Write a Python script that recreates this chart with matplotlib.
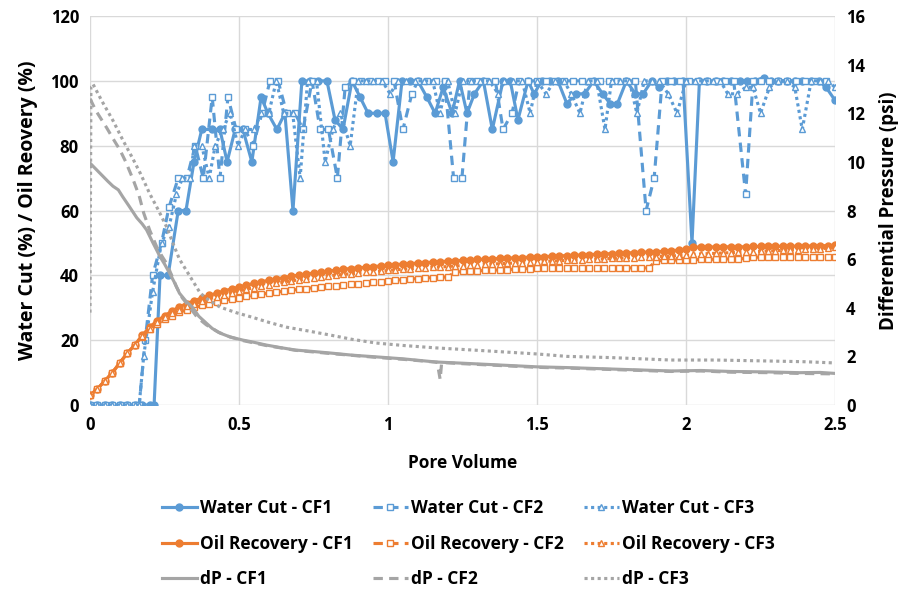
import matplotlib
matplotlib.use("Agg")
import matplotlib.pyplot as plt

plt.rcParams['font.family'] = ['Open Sans', 'DejaVu Sans']
plt.rcParams['font.weight'] = 'bold'

BLUE = '#5B9BD5'
ORANGE = '#ED7D31'
GRAY = '#A5A5A5'

# ---- water cut (%) ----
wc1_pv = [0, 0.025, 0.05, 0.075, 0.1, 0.125, 0.15, 0.175, 0.2, 0.215, 0.235, 0.262, 0.296, 0.322,
          0.349, 0.375, 0.409, 0.436, 0.46, 0.487, 0.513, 0.543, 0.574, 0.597, 0.627, 0.654, 0.681,
          0.711, 0.738, 0.765, 0.795, 0.822, 0.849, 0.879, 0.906, 0.933, 0.963, 0.99, 1.017, 1.047,
          1.074, 1.1, 1.13, 1.158, 1.185, 1.215, 1.24, 1.265, 1.29, 1.32, 1.35, 1.386, 1.41, 1.436,
          1.47, 1.49, 1.516, 1.543, 1.57, 1.6, 1.63, 1.66, 1.69, 1.72, 1.745, 1.77, 1.8, 1.83, 1.856,
          1.885, 1.91, 1.935, 1.96, 1.99, 2.02, 2.045, 2.07, 2.1, 2.125, 2.15, 2.18, 2.205, 2.23,
          2.26, 2.285, 2.31, 2.34, 2.365, 2.39, 2.42, 2.445, 2.47, 2.5]
wc1 = [0, 0, 0, 0, 0, 0, 0, 0, 0, 0, 40, 40, 60, 60,
       75, 85, 85, 85, 75, 85, 85, 75, 95, 90, 85, 90, 60,
       100, 100, 100, 100, 88, 85, 100, 95, 90, 90, 90, 75, 100,
       100, 100, 95, 90, 98, 90, 100, 90, 96, 100, 85, 100, 100, 88,
       100, 96, 100, 100, 100, 93, 96, 96, 100, 96, 93, 93, 100, 96, 96,
       100, 98, 100, 100, 100, 50, 100, 100, 100, 100, 100, 100, 100, 100,
       101, 100, 100, 100, 100, 100, 100, 100, 98, 94]

wc2_pv = [0, 0.025, 0.05, 0.075, 0.1, 0.125, 0.15, 0.165, 0.185, 0.21, 0.24, 0.265, 0.296, 0.325,
          0.353, 0.38, 0.41, 0.436, 0.463, 0.49, 0.52, 0.547, 0.577, 0.604, 0.631, 0.66, 0.688,
          0.715, 0.745, 0.772, 0.8, 0.83, 0.856, 0.883, 0.91, 0.94, 0.965, 0.99, 1.02, 1.05, 1.08,
          1.1, 1.13, 1.16, 1.19, 1.22, 1.248, 1.275, 1.3, 1.33, 1.36, 1.386, 1.416, 1.44, 1.47,
          1.5, 1.53, 1.56, 1.59, 1.62, 1.65, 1.68, 1.71, 1.74, 1.77, 1.8, 1.83, 1.866, 1.893,
          1.92, 1.95, 1.98, 2.01, 2.04, 2.07, 2.1, 2.13, 2.16, 2.2, 2.225, 2.25, 2.28, 2.31, 2.34,
          2.37, 2.4, 2.43, 2.47]
wc2 = [0, 0, 0, 0, 0, 0, 0, 0, 20, 40, 50, 61, 70, 70,
       80, 70, 95, 70, 95, 85, 85, 80, 90, 100, 100, 90, 90,
       85, 100, 85, 85, 70, 98, 100, 100, 100, 100, 100, 100, 85, 96,
       100, 100, 100, 100, 70, 70, 100, 100, 100, 100, 85, 90, 100, 100,
       100, 100, 100, 100, 100, 100, 100, 100, 100, 100, 100, 100, 60, 70,
       100, 100, 100, 100, 100, 100, 100, 100, 100, 65, 100, 100, 100, 100, 100,
       100, 100, 100, 100]

wc3_pv = [0, 0.025, 0.05, 0.075, 0.1, 0.125, 0.15, 0.165, 0.18, 0.21, 0.24, 0.265, 0.29, 0.31,
          0.335, 0.35, 0.375, 0.4, 0.42, 0.445, 0.47, 0.497, 0.52, 0.55, 0.575, 0.6, 0.625, 0.65,
          0.68, 0.705, 0.73, 0.76, 0.789, 0.815, 0.84, 0.873, 0.9, 0.925, 0.95, 0.98, 1.007, 1.035,
          1.06, 1.09, 1.12, 1.15, 1.174, 1.2, 1.225, 1.25, 1.28, 1.31, 1.34, 1.37, 1.39, 1.42,
          1.45, 1.477, 1.5, 1.53, 1.56, 1.59, 1.615, 1.644, 1.67, 1.7, 1.728, 1.75, 1.78, 1.81,
          1.835, 1.86, 1.885, 1.91, 1.94, 1.97, 2.0, 2.03, 2.06, 2.09, 2.115, 2.14, 2.17, 2.2,
          2.225, 2.25, 2.28, 2.31, 2.34, 2.365, 2.39, 2.42, 2.45, 2.475, 2.5]
wc3 = [0, 0, 0, 0, 0, 0, 0, 0, 15, 35, 50, 55, 65, 70,
       70, 80, 80, 70, 80, 85, 90, 80, 85, 85, 90, 90, 100, 90,
       90, 70, 100, 100, 75, 85, 90, 80, 100, 100, 100, 100, 96, 100,
       100, 100, 100, 100, 90, 100, 90, 100, 100, 100, 100, 96, 100, 100,
       100, 90, 100, 96, 100, 100, 96, 90, 100, 100, 85, 100, 100, 100,
       90, 100, 100, 100, 96, 90, 100, 100, 100, 100, 100, 96, 96, 98,
       98, 90, 98, 100, 100, 98, 85, 100, 100, 100, 98]

# ---- oil recovery (%) ----
or_pv = [0, 0.025, 0.05, 0.075, 0.1, 0.125, 0.15, 0.175, 0.2, 0.225, 0.25, 0.275, 0.3, 0.325,
         0.35, 0.375, 0.4, 0.425, 0.45, 0.475, 0.5, 0.525, 0.55, 0.575, 0.6, 0.625, 0.65, 0.675,
         0.7, 0.725, 0.75, 0.775, 0.8, 0.825, 0.85, 0.875, 0.9, 0.925, 0.95, 0.975, 1.0, 1.025,
         1.05, 1.075, 1.1, 1.125, 1.15, 1.175, 1.2, 1.225, 1.25, 1.275, 1.3, 1.325, 1.35, 1.375,
         1.4, 1.425, 1.45, 1.475, 1.5, 1.525, 1.55, 1.575, 1.6, 1.625, 1.65, 1.675, 1.7, 1.725,
         1.75, 1.775, 1.8, 1.825, 1.85, 1.875, 1.9, 1.925, 1.95, 1.975, 2.0, 2.025, 2.05, 2.075,
         2.1, 2.125, 2.15, 2.175, 2.2, 2.225, 2.25, 2.275, 2.3, 2.325, 2.35, 2.375, 2.4, 2.425,
         2.45, 2.475, 2.5]
or1 = [3, 5, 7.5, 10, 13, 16, 18.5, 21.5, 24, 26, 27.5, 29, 30.3, 31.3,
       32.2, 33, 33.8, 34.5, 35.2, 35.8, 36.4, 37, 37.5, 38, 38.5, 38.9, 39.3, 39.7,
       40.1, 40.4, 40.7, 41, 41.3, 41.6, 41.9, 42.1, 42.3, 42.5, 42.7, 42.9, 43.1, 43.3,
       43.5, 43.6, 43.8, 43.9, 44.1, 44.2, 44.4, 44.5, 44.6, 44.8, 44.9, 45, 45.1, 45.2,
       45.3, 45.4, 45.5, 45.6, 45.7, 45.8, 45.9, 46, 46.1, 46.2, 46.3, 46.4, 46.5, 46.6,
       46.7, 46.8, 46.9, 47, 47.1, 47.2, 47.3, 47.4, 47.6, 47.8, 48.1, 48.7, 48.7, 48.7,
       48.8, 48.8, 48.8, 48.8, 48.8, 48.9, 48.9, 48.9, 48.9, 49, 49, 49, 49, 49.1,
       49.1, 49.2, 49.3]
or2 = [3, 5, 7.5, 10, 13, 16, 18.5, 21, 23.3, 25, 26.5, 27.6, 28.6, 29.4,
       30.1, 30.7, 31.3, 31.8, 32.3, 32.7, 33.1, 33.5, 33.9, 34.2, 34.5, 34.8, 35.1, 35.4,
       35.7, 35.9, 36.2, 36.4, 36.6, 36.8, 37, 37.2, 37.4, 37.6, 37.8, 38, 38.3, 38.5,
       38.7, 38.9, 39, 39.2, 39.3, 39.4, 39.5, 41, 41.2, 41.3, 41.4, 41.5, 41.6, 41.7,
       41.8, 41.9, 42, 42.1, 42.2, 42.2, 42.2, 42.3, 42.3, 42.3, 42.3, 42.3, 42.3, 42.3,
       42.3, 42.3, 42.3, 42.3, 42.3, 42.3, 44.5, 44.6, 44.7, 44.7, 44.8, 44.8, 44.9, 44.9,
       45, 45, 45.1, 45.1, 45.2, 45.6, 45.6, 45.6, 45.6, 45.7, 45.7, 45.7, 45.7, 45.7,
       45.7, 45.7, 45.7]
or3 = [3, 5, 7.5, 10, 13, 16, 18.5, 21.3, 23.6, 25.5, 27, 28.3, 29.4, 30.4,
       31.2, 32, 32.7, 33.4, 34, 34.6, 35.2, 35.7, 36.2, 36.7, 37.1, 37.5, 37.9, 38.3,
       38.6, 38.9, 39.2, 39.5, 39.8, 40.1, 40.3, 40.5, 40.7, 40.9, 41.1, 41.3, 41.5, 41.7,
       41.9, 42, 42.2, 42.3, 42.5, 42.6, 42.7, 42.9, 43, 43.1, 43.2, 43.4, 43.5, 43.6,
       43.7, 43.8, 43.9, 44.1, 44.2, 44.3, 44.4, 44.5, 44.6, 44.7, 44.8, 44.9, 45, 45.1,
       45.2, 45.3, 45.4, 45.5, 45.6, 45.7, 45.8, 45.9, 46, 46.1, 46.2, 46.5, 46.6, 46.7,
       46.8, 46.9, 47, 47.1, 47.2, 47.3, 47.4, 47.5, 47.6, 47.7, 47.8, 47.9, 48, 48.1,
       48.2, 48.4, 48.6]

# ---- differential pressure (psi) ----
dp1_pv = [0, 0.02, 0.04, 0.06, 0.077, 0.095, 0.11, 0.13, 0.157, 0.175, 0.19, 0.21, 0.235, 0.25,
          0.268, 0.285, 0.3, 0.32, 0.345, 0.365, 0.39, 0.41, 0.436, 0.47, 0.513, 0.55, 0.59,
          0.64, 0.69, 0.75, 0.805, 0.88, 0.96, 1.05, 1.16, 1.25, 1.35, 1.5, 1.6, 1.7, 1.8, 1.95,
          2.05, 2.15, 2.28, 2.38, 2.45, 2.5]
dp1 = [9.95, 9.7, 9.45, 9.2, 9.0, 8.85, 8.56, 8.2, 7.7, 7.45, 7.2, 6.7, 6.1, 5.8,
       5.4, 5.0, 4.6, 4.3, 4.0, 3.65, 3.37, 3.15, 2.96, 2.8, 2.67, 2.58, 2.47,
       2.36, 2.26, 2.2, 2.14, 2.05, 1.98, 1.9, 1.77, 1.72, 1.66, 1.57, 1.54, 1.5, 1.46, 1.4,
       1.42, 1.38, 1.36, 1.33, 1.34, 1.3]

dp2_pv = [0, 0.02, 0.056, 0.08, 0.1, 0.12, 0.145, 0.165, 0.18, 0.2, 0.224, 0.24, 0.258, 0.29,
          0.31, 0.336, 0.36, 0.39, 0.43, 0.47, 0.513, 0.59, 0.69, 0.805, 0.96, 1.05, 1.165,
          1.175, 1.18, 1.25, 1.35, 1.5, 1.6, 1.7, 1.8, 1.95, 2.05, 2.15, 2.28, 2.38, 2.5]
dp2 = [12.6, 12.1, 11.4, 10.9, 10.5, 10.0, 9.26, 8.6, 7.9, 7.2, 6.5, 6.15, 5.8, 4.86,
       4.4, 4.0, 3.6, 3.3, 3.0, 2.8, 2.65, 2.45, 2.25, 2.12, 1.96, 1.88, 1.76,
       1.05, 1.75, 1.7, 1.64, 1.55, 1.52, 1.48, 1.44, 1.38, 1.4, 1.35, 1.33, 1.3, 1.28]

dp3_pv = [0, 0.003, 0.01, 0.04, 0.077, 0.11, 0.145, 0.17, 0.2, 0.23, 0.258, 0.28, 0.3, 0.335,
          0.37, 0.4, 0.436, 0.49, 0.547, 0.6, 0.66, 0.73, 0.805, 0.88, 0.96, 1.05, 1.16, 1.3,
          1.5, 1.6, 1.75, 1.95, 2.1, 2.28, 2.4, 2.5]
dp3 = [3.8, 13.1, 13.2, 12.5, 11.7, 10.9, 10.1, 9.5, 8.7, 8.0, 7.3, 6.6, 6.0, 5.3,
       4.6, 4.3, 4.03, 3.8, 3.6, 3.4, 3.2, 3.05, 2.88, 2.7, 2.55, 2.45, 2.35, 2.25,
       2.1, 2.0, 1.95, 1.85, 1.85, 1.81, 1.78, 1.73]

fig = plt.figure(figsize=(9.13, 5.93), dpi=100)
ax = fig.add_axes([0.0986, 0.317, 0.8160, 0.656])
ax2 = ax.twinx()

lw = 2.25
dash = (0, (3, 2))
dots = (0, (1, 1.1))

h_wc1, = ax.plot(wc1_pv, wc1, color=BLUE, lw=lw, marker='o', ms=5, label='Water Cut - CF1')
h_wc2, = ax.plot(wc2_pv, wc2, color=BLUE, lw=lw, ls=dash, marker='s', ms=5, mfc='white',
                 mew=1, label='Water Cut - CF2')
h_wc3, = ax.plot(wc3_pv, wc3, color=BLUE, lw=lw, ls=dots, marker='^', ms=5, mfc='white',
                 mew=1, label='Water Cut - CF3')
h_or1, = ax.plot(or_pv, or1, color=ORANGE, lw=lw, marker='o', ms=5, label='Oil Recovery - CF1')
h_or2, = ax.plot(or_pv, or2, color=ORANGE, lw=lw, ls=dash, marker='s', ms=5, mfc='white',
                 mew=1, label='Oil Recovery - CF2')
h_or3, = ax.plot(or_pv, or3, color=ORANGE, lw=lw, ls=dots, marker='^', ms=5, mfc='white',
                 mew=1, label='Oil Recovery - CF3')

h_dp1, = ax2.plot(dp1_pv, dp1, color=GRAY, lw=lw, label='dP - CF1')
h_dp2, = ax2.plot(dp2_pv, dp2, color=GRAY, lw=lw, ls=dash, label='dP - CF2')
h_dp3, = ax2.plot(dp3_pv, dp3, color=GRAY, lw=lw, ls=dots, label='dP - CF3')

ax.set_xlim(0, 2.5)
ax.set_ylim(0, 120)
ax2.set_ylim(0, 16)
ax.set_xticks([0, 0.5, 1, 1.5, 2, 2.5])
ax.set_xticklabels(['0', '0.5', '1', '1.5', '2', '2.5'])
ax.set_yticks(range(0, 121, 20))
ax2.set_yticks(range(0, 17, 2))

ax.grid(True, color='#D9D9D9', lw=1)
ax.set_axisbelow(True)
for a in (ax, ax2):
    for s in a.spines.values():
        s.set_visible(False)
    a.tick_params(length=0, labelsize=12, pad=8)

ax.set_xlabel('Pore Volume', fontsize=12.5, fontweight='bold', labelpad=14)
ax.set_ylabel('Water Cut (%) / Oil Reovery (%)', fontsize=14, fontweight='bold', labelpad=9)
ax2.set_ylabel('Differential Pressure (psi)', fontsize=13.5, fontweight='bold', labelpad=10)

# Excel fills the legend row by row, matplotlib column by column
order = [h_wc1, h_or1, h_dp1, h_wc2, h_or2, h_dp2, h_wc3, h_or3, h_dp3]
fig.legend(handles=order, labels=[h.get_label() for h in order], ncol=3, loc='upper left',
           bbox_to_anchor=(0.1774, 0.158), frameon=False, fontsize=12.5, handlelength=2.0,
           columnspacing=1.15, labelspacing=1.0, handletextpad=0.2, numpoints=1,
           borderpad=0, borderaxespad=0)

fig.savefig('out.png', dpi=100)
